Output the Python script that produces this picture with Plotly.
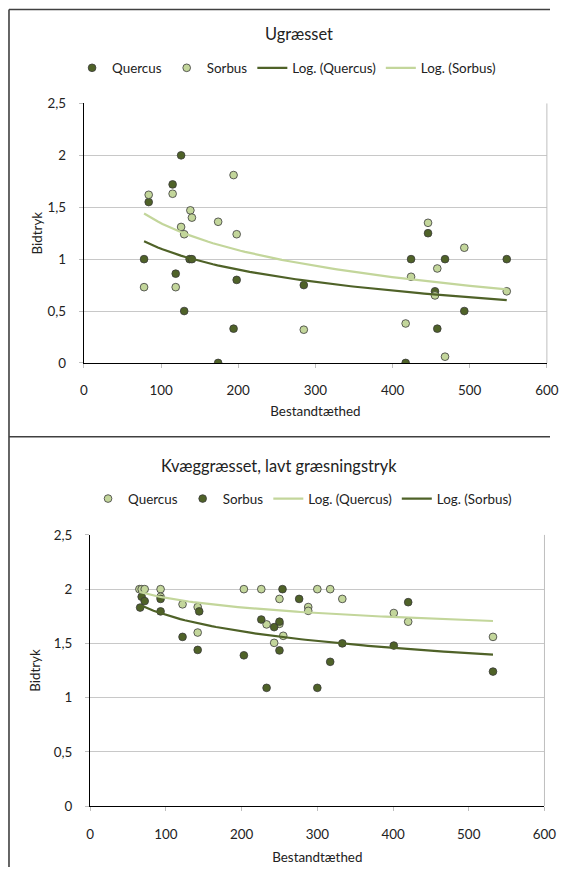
import numpy as np
import plotly.graph_objects as go

# ---------------- Data: Ugræsset ----------------
ug_quercus_x = [126, 115, 84, 78, 137, 140, 119, 198, 285, 130, 194, 174,
                446, 424, 468, 548, 455, 493, 458, 417]
ug_quercus_y = [2.0, 1.72, 1.55, 1.0, 1.0, 1.0, 0.86, 0.80, 0.75, 0.50, 0.33, 0.0,
                1.25, 1.0, 1.0, 1.0, 0.69, 0.50, 0.33, 0.0]
ug_sorbus_x = [194, 84, 115, 138, 140, 174, 126, 130, 198, 78, 119, 285,
               446, 493, 458, 424, 455, 548, 417, 468]
ug_sorbus_y = [1.81, 1.62, 1.63, 1.47, 1.40, 1.36, 1.31, 1.24, 1.24, 0.73, 0.73, 0.32,
               1.35, 1.11, 0.91, 0.83, 0.65, 0.69, 0.38, 0.06]

# ---------------- Data: Kvæggræsset, lavt græsningstryk ----------------
kv_quercus_x = [65, 68, 72, 93, 93, 122, 142, 142, 203, 226, 250, 233, 250, 243, 255,
                288, 288, 300, 317, 333, 401, 420, 532]
kv_quercus_y = [2.0, 2.0, 2.0, 2.0, 1.93, 1.86, 1.835, 1.60, 2.0, 2.0, 1.91, 1.675, 1.68,
                1.505, 1.57, 1.835, 1.80, 2.0, 2.0, 1.91, 1.78, 1.70, 1.56]
kv_sorbus_x = [254, 68, 72, 66, 93, 93, 144, 122, 142, 226, 243, 250, 250, 203, 233,
               300, 276, 317, 420, 333, 401, 532]
kv_sorbus_y = [2.0, 1.93, 1.89, 1.83, 1.91, 1.795, 1.795, 1.56, 1.44, 1.72, 1.65, 1.70,
               1.435, 1.39, 1.09, 1.09, 1.91, 1.33, 1.88, 1.50, 1.48, 1.24]

x_ticks = [0, 100, 200, 300, 400, 500, 600]
y_ticks = [0, 0.5, 1, 1.5, 2, 2.5]
y_ticktext = ["0", "0,5", "1", "1,5", "2", "2,5"]

DARK = "#4F6228"
LIGHT = "#C3D69B"
FONT = "Lato"
TXT = "#222222"
FS = 13.4      # tick / legend / axis-title font size
FS_T = 16.4    # chart title font size
MS = 7.7       # marker size


def log_trend(xs, ys):
    xs = np.asarray(xs, float)
    ys = np.asarray(ys, float)
    a, b = np.polyfit(np.log(xs), ys, 1)
    xx = np.linspace(xs.min(), xs.max(), 80)
    return xx, a * np.log(xx) + b


fig = go.Figure()


def add_panel(xq, yq, xs, ys, q_color, s_color, xa, ya, legend):
    fig.add_trace(go.Scatter(x=xq, y=yq, mode="markers", name="Quercus",
                             marker=dict(color=q_color, size=MS, line=dict(color="#3A3A3A", width=0.8)),
                             xaxis=xa, yaxis=ya, legend=legend))
    fig.add_trace(go.Scatter(x=xs, y=ys, mode="markers", name="Sorbus",
                             marker=dict(color=s_color, size=MS, line=dict(color="#3A3A3A", width=0.8)),
                             xaxis=xa, yaxis=ya, legend=legend))
    tx, ty = log_trend(xq, yq)
    fig.add_trace(go.Scatter(x=tx, y=ty, mode="lines", name="Log. (Quercus)",
                             line=dict(color=q_color, width=2.2), xaxis=xa, yaxis=ya, legend=legend))
    tx, ty = log_trend(xs, ys)
    fig.add_trace(go.Scatter(x=tx, y=ty, mode="lines", name="Log. (Sorbus)",
                             line=dict(color=s_color, width=2.2), xaxis=xa, yaxis=ya, legend=legend))


add_panel(ug_quercus_x, ug_quercus_y, ug_sorbus_x, ug_sorbus_y, DARK, LIGHT, "x", "y", "legend")
add_panel(kv_quercus_x, kv_quercus_y, kv_sorbus_x, kv_sorbus_y, LIGHT, DARK, "x2", "y2", "legend2")

W, H = 562, 875
# the photographed page appears slightly reduced and offset; place layout so it lands on target pixels
SX, BX = 0.973, 2.0
SY, BY = 0.980, 8.0


def px(x):
    return ((x - BX) / SX) / W


def py(y):
    return 1 - ((y - BY) / SY) / H


def xaxis_cfg(standoff, lblstand):
    return dict(range=[0, 600], tickvals=x_ticks, showgrid=False, zeroline=False,
                showline=True, linecolor="black", linewidth=1.3,
                ticks="outside", ticklen=4, tickcolor="#BFBFBF", ticklabelstandoff=lblstand,
                ticklabeloverflow="allow",
                tickfont=dict(family=FONT, size=FS, color=TXT),
                title=dict(text="Bestandtæthed", font=dict(family=FONT, size=FS, color=TXT),
                           standoff=standoff))


def yaxis_cfg(standoff):
    return dict(range=[0, 2.5], tickvals=y_ticks, ticktext=y_ticktext,
                showgrid=True, gridcolor="#C8C8C8", gridwidth=1, zeroline=False,
                showline=True, linecolor="black", linewidth=1.3,
                ticks="outside", ticklen=4, tickcolor="#BFBFBF", ticklabelstandoff=10,
                tickfont=dict(family=FONT, size=FS, color=TXT),
                title=dict(text="Bidtryk", font=dict(family=FONT, size=FS, color=TXT),
                           standoff=standoff))


legend_common = dict(orientation="h", xanchor="center", yanchor="middle",
                     font=dict(family=FONT, size=FS, color=TXT), bgcolor="rgba(0,0,0,0)",
                     itemwidth=30, tracegroupgap=0)

fig.update_layout(
    width=W, height=H,
    margin=dict(l=0, r=0, t=0, b=0),
    paper_bgcolor="white", plot_bgcolor="white",
    font=dict(family=FONT, size=FS, color=TXT),
    xaxis=dict(domain=[px(82), px(545.7)], anchor="y", **xaxis_cfg(9, 11)),
    yaxis=dict(domain=[py(362.3), py(103.3)], anchor="x", **yaxis_cfg(1)),
    xaxis2=dict(domain=[px(88.3), px(543.3)], anchor="y2", **xaxis_cfg(11, 12)),
    yaxis2=dict(domain=[py(804.7), py(534)], anchor="x2", **yaxis_cfg(10)),
    legend=dict(x=px(285), y=py(68), **legend_common),
    legend2=dict(x=px(301), y=py(498), **legend_common),
    annotations=[
        dict(text="Ugræsset", x=px(297), y=py(33), xref="paper", yref="paper",
             showarrow=False, font=dict(family=FONT, size=FS_T, color=TXT),
             xanchor="center", yanchor="middle"),
        dict(text="Kvæggræsset, lavt græsningstryk", x=px(277), y=py(465),
             xref="paper", yref="paper", showarrow=False,
             font=dict(family=FONT, size=FS_T, color=TXT), xanchor="center", yanchor="middle"),
    ],
    shapes=[
        # panel frames
        dict(type="line", xref="paper", yref="paper", x0=px(7), x1=1, y0=py(9.5), y1=py(9.5),
             line=dict(color="#404040", width=1.6)),
        dict(type="line", xref="paper", yref="paper", x0=px(7), x1=px(7), y0=0, y1=py(9.5),
             line=dict(color="#404040", width=1.6)),
        dict(type="line", xref="paper", yref="paper", x0=px(7), x1=1, y0=py(436), y1=py(436),
             line=dict(color="#404040", width=1.6)),
        # plot-area right borders
        dict(type="line", xref="x domain", yref="y domain", x0=1, x1=1, y0=0, y1=1,
             line=dict(color="#BFBFBF", width=1)),
        dict(type="line", xref="x2 domain", yref="y2 domain", x0=1, x1=1, y0=0, y1=1,
             line=dict(color="#BFBFBF", width=1)),
    ],
)

fig.write_html("out.html", config={"displayModeBar": False},
               post_script="document.body.style.margin='0px';document.body.style.overflow='hidden';")
